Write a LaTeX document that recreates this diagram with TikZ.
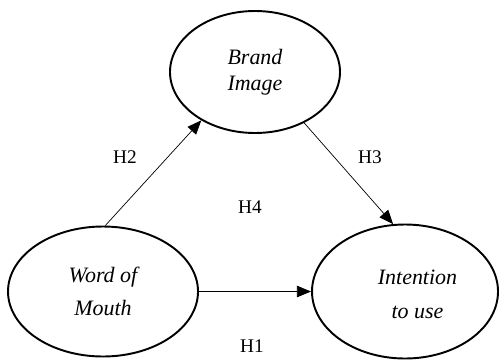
\documentclass[tikz,border=0pt]{standalone}
\usepackage{fontspec}
\setmainfont{Liberation Serif}
\usetikzlibrary{shapes.geometric,arrows.meta}
\begin{document}
\begin{tikzpicture}[
    construct/.style={ellipse,draw,line width=1.1pt,inner sep=0pt},
    ctext/.style={align=center,font=\itshape\fontsize{12.5}{15}\selectfont},
    path/.style={-{Triangle[length=8pt,width=6.5pt]},line width=0.4pt},
    hyp/.style={font=\fontsize{11}{13}\selectfont}]
    \useasboundingbox (0,0) rectangle (10,7.18);

    % constructs
    \node[construct,minimum width=3.4cm,minimum height=2.44cm,ctext] (brand) at (5.10,5.74) {Brand\\[0pt]Image};
    \node[construct,minimum width=3.8cm,minimum height=2.6cm,ctext] (wom) at (2.06,1.35) {Word of\\[4pt]Mouth};
    \node[construct,minimum width=3.72cm,minimum height=2.68cm] (intent) at (8.10,1.35) {};
    \node[ctext,xshift=0.25cm,yshift=-0.06cm] (intenttxt) at (intent) {Intention\\[4pt]to use};

    % paths
    \draw[path] (wom.88) -- (brand.222);
    \draw[path] (brand.-46) -- (intent.100);
    \draw[path] (wom.east) -- (intent.west);

    \node[hyp] (h2) at (2.50,4.04) {H2};
    \node[hyp] (h3) at (7.40,4.04) {H3};
    \node[hyp] (h4) at (5.00,3.04) {H4};
    \node[hyp] (h1) at (5.04,0.26) {H1};
\end{tikzpicture}
\end{document}
